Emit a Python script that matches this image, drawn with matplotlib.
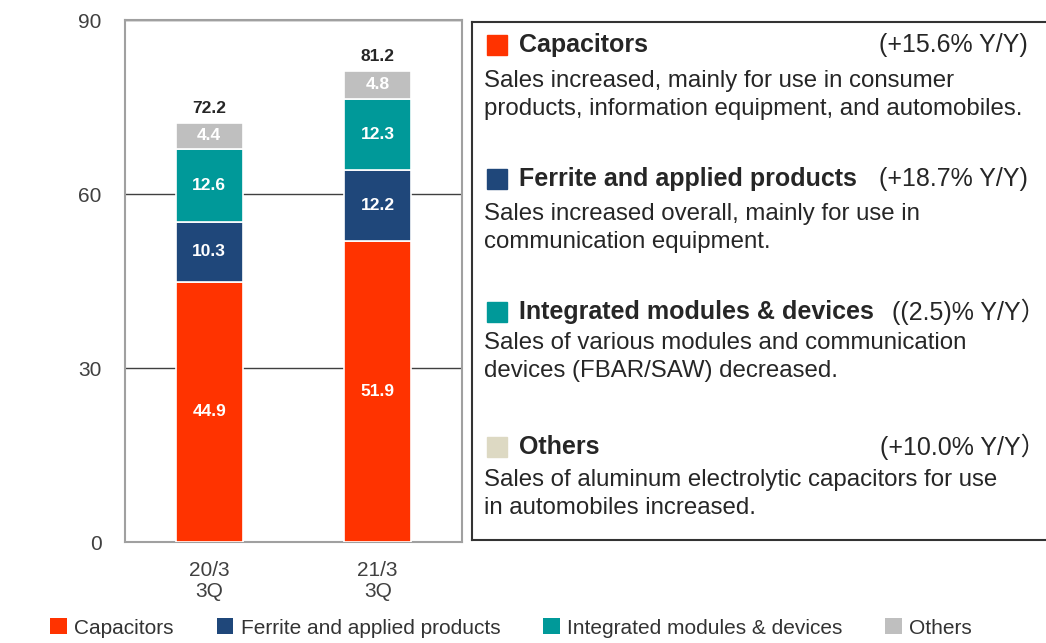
import numpy as np
import matplotlib
matplotlib.use("Agg")
import matplotlib.pyplot as plt
from matplotlib.patches import Patch, Rectangle

plt.rcParams['font.family'] = ['Liberation Sans', 'Noto Sans CJK JP', 'DejaVu Sans']

periods = ["20/3\n3Q", "21/3\n3Q"]
segments = ["Capacitors", "Ferrite and applied products",
            "Integrated modules & devices", "Others"]
capacitors = [44.9, 51.9]
ferrite = [10.3, 12.2]
integrated = [12.6, 12.3]
others = [4.4, 4.8]
totals = [72.2, 81.2]
seg_colors = ["#FF3300", "#1F477A", "#009999", "#BFBFBF"]

yy_changes = ["(+15.6% Y/Y)", "(+18.7% Y/Y)", "((2.5)% Y/Y\uff09", "(+10.0% Y/Y\uff09"]
comments = [
    "Sales increased, mainly for use in consumer\nproducts, information equipment, and automobiles.",
    "Sales increased overall, mainly for use in\ncommunication equipment.",
    "Sales of various modules and communication\ndevices (FBAR/SAW) decreased.",
    "Sales of aluminum electrolytic capacitors for use\nin automobiles increased.",
]
box_colors = ["#FF3300", "#1F477A", "#009999", "#DDD9C3"]

W, H = 1046, 643


def px(x, y):
    return x / W, 1 - y / H


fig = plt.figure(figsize=(W / 100, H / 100), dpi=100)
ax = fig.add_axes([125 / W, 1 - 542 / H, 337 / W, 522 / H])

x = np.arange(len(periods))
series = [capacitors, ferrite, integrated, others]
bottom = np.zeros(len(periods))
for vals, col in zip(series, seg_colors):
    ax.bar(x, vals, 0.4, bottom=bottom, color=col, edgecolor="white",
           linewidth=1.2, zorder=3)
    for xi, b, v in zip(x, bottom, vals):
        ax.text(xi, b + v / 2, f"{v:.1f}", ha="center", va="center",
                color="white", fontsize=12.5, fontweight="bold", zorder=4)
    bottom = bottom + np.array(vals)

for xi, t in zip(x, totals):
    ax.annotate(f"{t:.1f}", (xi, t), xytext=(0, 5), textcoords="offset points",
                ha="center", va="bottom", fontsize=12.5, fontweight="bold",
                color="#262626")

ax.set_xlim(-0.5, 1.5)
ax.set_ylim(0, 90)
ax.set_yticks([0, 30, 60, 90])
ax.set_xticks(x)
ax.set_xticklabels(periods, linespacing=1.1)
ax.tick_params(length=0, labelsize=15, colors="#404040")
ax.tick_params(axis="x", pad=14)
ax.tick_params(axis="y", pad=17)
ax.yaxis.grid(True, color="#404040", linewidth=1.0, zorder=1)
ax.set_axisbelow(True)
for s in ax.spines.values():
    s.set_color("#A0A0A0")
    s.set_linewidth(1.5)

# commentary box
box = fig.add_axes([472 / W, 1 - 540 / H, 580 / W, 518 / H])
box.set_xticks([])
box.set_yticks([])
for s in box.spines.values():
    s.set_color("#333333")
    s.set_linewidth(1.5)

head_y = [45, 179, 312, 447]
body_y = [95, 228, 357, 494]
yy_x = [1028, 1028, 1046, 1046]
for seg, yy, com, col, hy, by, yx in zip(segments, yy_changes, comments,
                                           box_colors, head_y, body_y, yy_x):
    sx, sy = px(487, hy + 10)
    fig.patches.append(Rectangle((sx, sy), 20 / W, 20 / H, color=col,
                                 transform=fig.transFigure, figure=fig))
    fig.text(*px(519, hy), seg, fontsize=18, fontweight="bold",
             color="#262626", va="center", ha="left")
    fig.text(*px(yx, hy), yy, fontsize=18, color="#262626",
             va="center", ha="right")
    fig.text(*px(484, by), com, fontsize=17.3, color="#262626",
             va="center", ha="left", linespacing=1.3)

handles = [Patch(facecolor=c, edgecolor="none") for c in seg_colors]
fig.legend(handles, segments, loc="center", bbox_to_anchor=px(511, 628),
           ncol=4, frameon=False, fontsize=15, handlelength=0.8,
           handleheight=0.8, handletextpad=0.35, columnspacing=2.05,
           labelcolor="#333333")

fig.savefig("out.png", dpi=100)
